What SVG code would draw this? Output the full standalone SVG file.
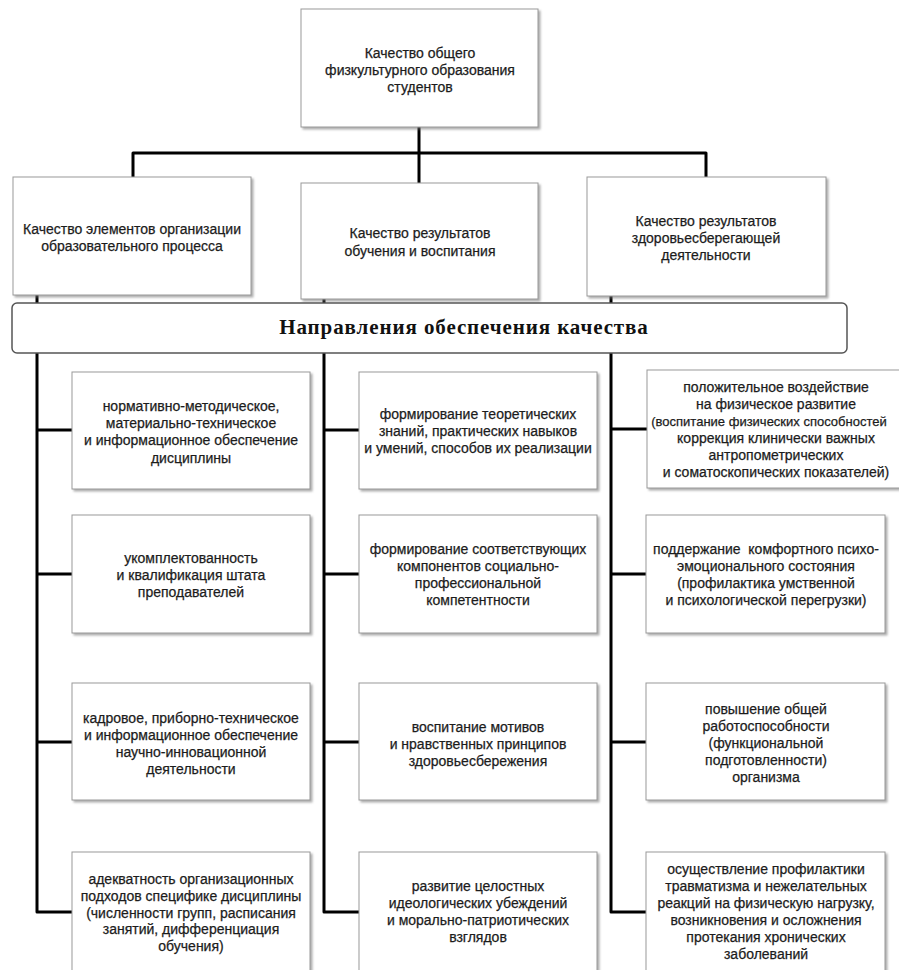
<svg xmlns="http://www.w3.org/2000/svg" width="899" height="970" viewBox="0 0 899 970">
<defs>
<filter id="sh" x="-5%" y="-5%" width="115%" height="120%">
<feDropShadow dx="2" dy="2" stdDeviation="1.2" flood-color="#777" flood-opacity="0.6"/>
</filter>
</defs>
<style>
.box{fill:#fff;stroke:#999;stroke-width:1;filter:url(#sh)}
.t{font-family:"Liberation Sans",Arial,sans-serif;font-size:14px;fill:#1c1c1c;stroke:#1c1c1c;stroke-width:0.25;text-anchor:middle;dominant-baseline:central}
.ln{fill:none;stroke:#000;stroke-width:3;stroke-linejoin:round}
.ban{fill:#fff;stroke:#555;stroke-width:1.5}
.bt{font-family:"Liberation Serif","Times New Roman",serif;font-weight:bold;font-size:21px;fill:#111;text-anchor:middle;dominant-baseline:central;letter-spacing:0.9px}
</style>
<rect width="899" height="970" fill="#fff"/>
<g id="connectors">
<path class="ln" d="M133,177 V153 H706 V177"/>
<path class="ln" d="M419,127 V183" stroke-width="4"/>
<path class="ln" d="M37,295 V912 H72"/>
<path class="ln" d="M37,430 H72 M37,574 H72 M37,742 H72"/>
<path class="ln" d="M324,299 V912 H359"/>
<path class="ln" d="M324,430 H359 M324,574 H359 M324,742 H359"/>
<path class="ln" d="M611,296 V912 H646"/>
<path class="ln" d="M611,429 H647 M611,574 H646 M611,742 H646"/>
</g>
<g id="top">
<rect class="box" x="301" y="9" width="237" height="118"/>
<text class="t" x="420" y="53">Качество общего</text>
<text class="t" x="420" y="70">физкультурного образования</text>
<text class="t" x="420" y="87">студентов</text>
</g>
<g id="h1">
<rect class="box" x="13" y="177" width="238" height="118"/>
<text class="t" x="132" y="229">Качество элементов организации</text>
<text class="t" x="132" y="246">образовательного процесса</text>
</g>
<g id="h2">
<rect class="box" x="301" y="183" width="237" height="116"/>
<text class="t" x="420" y="233">Качество результатов</text>
<text class="t" x="420" y="251">обучения и воспитания</text>
</g>
<g id="h3">
<rect class="box" x="587" y="177" width="239" height="119"/>
<text class="t" x="706" y="221">Качество результатов</text>
<text class="t" x="706" y="238">здоровьесберегающей</text>
<text class="t" x="706" y="255">деятельности</text>
</g>
<g id="banner">
<rect class="ban" x="12" y="303" width="835" height="50" rx="5"/>
<text class="bt" x="464" y="327">Направления обеспечения качества</text>
</g>
<g id="a1">
<rect class="box" x="72" y="372" width="238" height="117"/>
<text class="t" x="191" y="406">нормативно-методическое,</text>
<text class="t" x="191" y="423">материально-техническое</text>
<text class="t" x="191" y="440">и информационное обеспечение</text>
<text class="t" x="191" y="458">дисциплины</text>
</g>
<g id="a2">
<rect class="box" x="72" y="515" width="238" height="118"/>
<text class="t" x="191" y="558">укомплектованность</text>
<text class="t" x="191" y="575">и квалификация штата</text>
<text class="t" x="191" y="592">преподавателей</text>
</g>
<g id="a3">
<rect class="box" x="72" y="683" width="238" height="117"/>
<text class="t" x="191" y="718">кадровое, приборно-техническое</text>
<text class="t" x="191" y="735">и информационное обеспечение</text>
<text class="t" x="191" y="752">научно-инновационной</text>
<text class="t" x="191" y="769">деятельности</text>
</g>
<g id="a4">
<rect class="box" x="72" y="852" width="238" height="125"/>
<text class="t" x="191" y="879">адекватность организационных</text>
<text class="t" x="191" y="896">подходов специфике дисциплины</text>
<text class="t" x="191" y="913">(численности групп, расписания</text>
<text class="t" x="191" y="929">занятий, дифференциация</text>
<text class="t" x="191" y="946">обучения)</text>
</g>
<g id="b1">
<rect class="box" x="359" y="372" width="238" height="117"/>
<text class="t" x="478" y="414">формирование теоретических</text>
<text class="t" x="478" y="431">знаний, практических навыков</text>
<text class="t" x="478" y="448">и умений, способов их реализации</text>
</g>
<g id="b2">
<rect class="box" x="359" y="515" width="238" height="118"/>
<text class="t" x="478" y="549">формирование соответствующих</text>
<text class="t" x="478" y="566">компонентов социально-</text>
<text class="t" x="478" y="583">профессиональной</text>
<text class="t" x="478" y="600">компетентности</text>
</g>
<g id="b3">
<rect class="box" x="359" y="683" width="238" height="117"/>
<text class="t" x="478" y="727">воспитание мотивов</text>
<text class="t" x="478" y="744">и нравственных принципов</text>
<text class="t" x="478" y="761">здоровьесбережения</text>
</g>
<g id="b4">
<rect class="box" x="359" y="852" width="238" height="125"/>
<text class="t" x="478" y="886">развитие целостных</text>
<text class="t" x="478" y="903">идеологических убеждений</text>
<text class="t" x="478" y="920">и морально-патриотических</text>
<text class="t" x="478" y="937">взглядов</text>
</g>
<g id="c1">
<rect class="box" x="647" y="370" width="258" height="118"/>
<text class="t" x="776" y="387">положительное воздействие</text>
<text class="t" x="776" y="404">на физическое развитие</text>
<text class="t" x="769" y="421" style="font-size:13px">(воспитание физических способностей</text>
<text class="t" x="776" y="438">коррекция клинически важных</text>
<text class="t" x="776" y="455">антропометрических</text>
<text class="t" x="776" y="472">и соматоскопических показателей)</text>
</g>
<g id="c2">
<rect class="box" x="646" y="515" width="239" height="118"/>
<text class="t" x="766" y="549" xml:space="preserve">поддержание  комфортного психо-</text>
<text class="t" x="766" y="566">эмоционального состояния</text>
<text class="t" x="766" y="583">(профилактика умственной</text>
<text class="t" x="766" y="600">и психологической перегрузки)</text>
</g>
<g id="c3">
<rect class="box" x="646" y="683" width="239" height="117"/>
<text class="t" x="766" y="709">повышение общей</text>
<text class="t" x="766" y="726">работоспособности</text>
<text class="t" x="766" y="743">(функциональной</text>
<text class="t" x="766" y="760">подготовленности)</text>
<text class="t" x="766" y="777">организма</text>
</g>
<g id="c4">
<rect class="box" x="646" y="852" width="239" height="125"/>
<text class="t" x="766" y="869">осуществление профилактики</text>
<text class="t" x="766" y="886">травматизма и нежелательных</text>
<text class="t" x="766" y="903">реакций на физическую нагрузку,</text>
<text class="t" x="766" y="920">возникновения и осложнения</text>
<text class="t" x="766" y="937">протекания хронических</text>
<text class="t" x="766" y="954">заболеваний</text>
</g>
</svg>
